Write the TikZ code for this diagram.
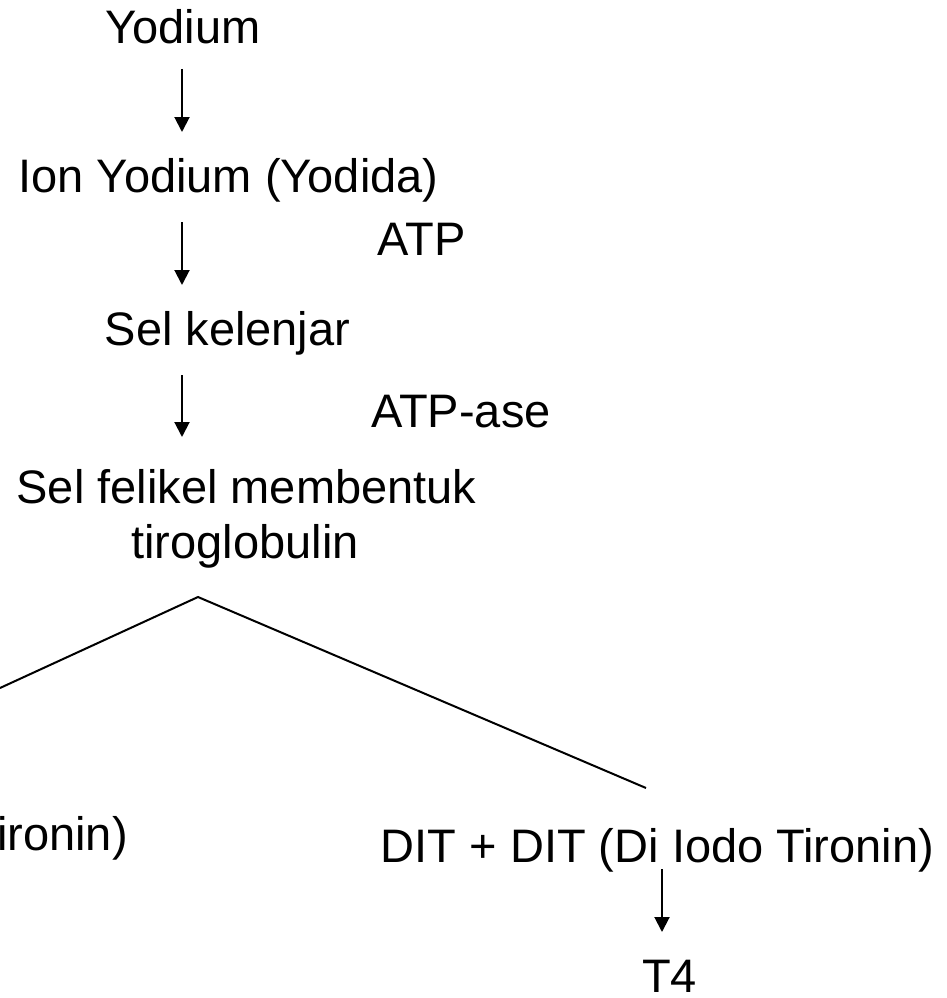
\documentclass[tikz,border=0pt]{standalone}
\usepackage{fontspec}
\setmainfont{Liberation Sans}
\usetikzlibrary{arrows.meta,calc}
\begin{document}
\begin{tikzpicture}[x=1pt,y=-1pt,
  lbl/.style={font=\fontsize{47}{56}\selectfont, inner sep=0pt, anchor=base},
  arr/.style={line width=2pt, -{Triangle[length=15pt,width=15pt]}},
  branch/.style={line width=2pt}]
\useasboundingbox (0,0) rectangle (946,998);
\begin{scope}
\clip (0,0) rectangle (946,998);
\node[lbl] (yod) at (183,44) {Yodium};
\node[lbl] (ion) at (228.5,192) {Ion Yodium (Yodida)};
\node[lbl] (atp) at (421.5,255) {ATP};
\node[lbl] (kel) at (227.5,345) {Sel kelenjar};
\node[lbl] (ase) at (461,427) {ATP-ase};
\node[lbl] (fel) at (246.5,503) {Sel felikel membentuk};
\node[lbl] (tiro) at (245,558) {tiroglobulin};
\node[lbl, anchor=base west] (mit) at (-3,850) {ironin)};
\node[lbl] (dit) at (657.5,862) {DIT + DIT (Di Iodo Tironin)};
\node[lbl] (t4) at (669.5,992) {T4};

\draw[arr] ($(yod.base)+(-1,25)$) -- ($(ion.base)+(-46.5,-60)$);
\draw[arr] ($(ion.base)+(-46.5,30)$) -- ($(kel.base)+(-45.5,-60)$);
\draw[arr] ($(kel.base)+(-45.5,30)$) -- ($(fel.base)+(-64.5,-66)$);
\draw[arr] ($(dit.base)+(4.5,7)$) -- ($(t4.base)+(-7.5,-60)$);

\coordinate (apex) at ($(tiro.base)+(-47,39)$);
\coordinate (lfar) at (0,688);
\coordinate (rend) at ($(dit.base)+(-11.5,-74)$);
\draw[branch] (lfar) -- (apex) -- (rend);
\end{scope}
\end{tikzpicture}
\end{document}
